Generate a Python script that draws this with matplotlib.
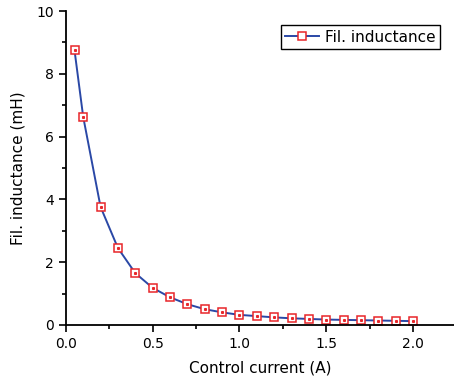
import matplotlib
matplotlib.use("Agg")
import matplotlib.pyplot as plt
from matplotlib.ticker import MultipleLocator

# Data
current = [0.05, 0.1, 0.2, 0.3, 0.4, 0.5, 0.6, 0.7, 0.8, 0.9, 1.0,
           1.1, 1.2, 1.3, 1.4, 1.5, 1.6, 1.7, 1.8, 1.9, 2.0]
inductance = [8.75, 6.63, 3.76, 2.45, 1.65, 1.18, 0.88, 0.66, 0.50, 0.40, 0.32,
              0.28, 0.24, 0.21, 0.19, 0.17, 0.16, 0.15, 0.14, 0.13, 0.12]
series_label = "Fil. inductance"

plt.rcParams['font.family'] = ['DejaVu Sans']

fig = plt.figure(figsize=(4.54, 3.80), dpi=100)
ax = fig.add_axes([0.145, 0.145, 0.855, 0.826])

ax.plot(current, inductance, color='#2a48a6', linewidth=1.4,
        marker='s', markersize=5.5, markerfacecolor='white',
        markeredgecolor='#e8262a', markeredgewidth=1.1, label=series_label)
# small centre dot of the markers
ax.plot(current, inductance, linestyle='none', marker='s', markersize=1.2,
        color='#e8262a')

ax.set_xlim(0, 2.236)
ax.set_ylim(0, 10)
ax.xaxis.set_major_locator(MultipleLocator(0.5))
ax.xaxis.set_minor_locator(MultipleLocator(0.25))
ax.yaxis.set_major_locator(MultipleLocator(2))
ax.yaxis.set_minor_locator(MultipleLocator(1))
ax.xaxis.set_major_formatter(plt.FuncFormatter(lambda v, p: f"{v:.1f}"))

for s in ['top', 'right']:
    ax.spines[s].set_visible(False)
for s in ['left', 'bottom']:
    ax.spines[s].set_linewidth(1.3)

ax.tick_params(which='major', direction='out', length=5, width=1.2, labelsize=10)
ax.tick_params(which='minor', direction='out', length=3, width=1.2)

ax.set_xlabel('Control current (A)', fontsize=11, labelpad=7)
ax.set_ylabel('Fil. inductance (mH)', fontsize=11, labelpad=8)

leg = ax.legend(loc='upper right', bbox_to_anchor=(0.965, 0.955), fontsize=11,
                fancybox=False, edgecolor='black', framealpha=1,
                handlelength=2.2, handletextpad=0.4, borderpad=0.3,
                borderaxespad=0)
leg.get_frame().set_linewidth(1.0)

fig.savefig('out.png', dpi=100)
